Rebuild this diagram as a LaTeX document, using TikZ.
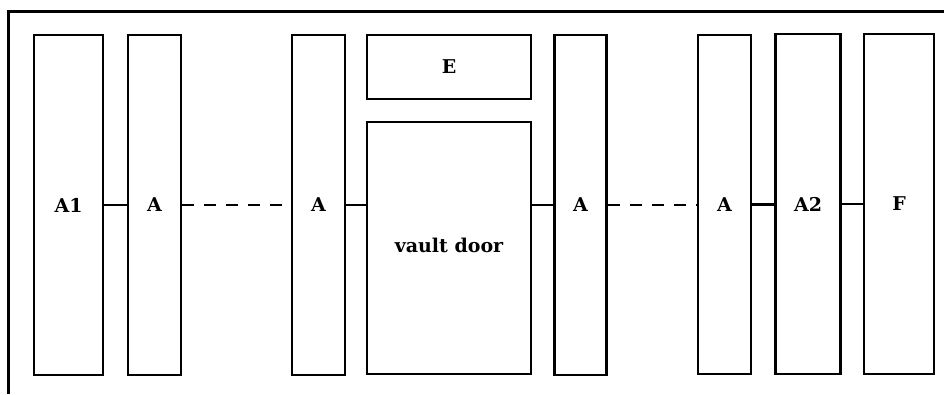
\documentclass[tikz,border=0pt]{standalone}
\usepackage{fontspec}
\setmainfont{DejaVu Serif}
\begin{document}
\begin{tikzpicture}[x=1pt,y=-1pt,
  blk/.style={draw,line width=2.5pt,inner sep=0pt,font=\fontsize{19}{22}\selectfont\bfseries},
  conn/.style={line width=2.8pt},
  dconn/.style={line width=2.8pt,dash pattern=on 12pt off 10pt}]
\useasboundingbox (0,0) rectangle (944,394);
\draw[line width=3.3pt] (8.5,394) -- (8.5,11.5) -- (944,11.5);
\node[blk,minimum width=69pt,minimum height=340pt] (a1) at (68.5,205) {A1};
\node[blk,minimum width=53pt,minimum height=340pt] (a2) at (154.5,205) {A};
\node[blk,minimum width=53pt,minimum height=340pt] (a3) at (318.5,205) {A};
\node[blk,minimum width=164pt,minimum height=64pt] (e) at (449,67) {E};
\node[blk,minimum width=164pt,minimum height=252pt] (vd) at (449,248) {\raisebox{5pt}{vault door}};
\node[blk,minimum width=52pt,minimum height=340pt] (a4) at (580.5,205) {A};
\node[blk,minimum width=53pt,minimum height=339pt] (a5) at (724.5,204.5) {A};
\node[blk,minimum width=65pt,minimum height=340pt] (a6) at (808,204) {A2};
\node[blk,minimum width=70pt,minimum height=340pt] (f) at (899,204) {F};
\draw[conn] (a1.east) -- (a1.east -| a2.west);
\draw[dconn] (a2.east) -- (a2.east -| a3.west);
\draw[conn] (a3.east) -- (a3.east -| vd.west);
\draw[conn] (vd.east |- a4.west) -- (a4.west);
\draw[dconn] (a4.east) -- (a4.east -| a5.west);
\draw[conn] (a5.east) -- (a5.east -| a6.west);
\draw[conn] (a6.east) -- (a6.east -| f.west);
\end{tikzpicture}
\end{document}
